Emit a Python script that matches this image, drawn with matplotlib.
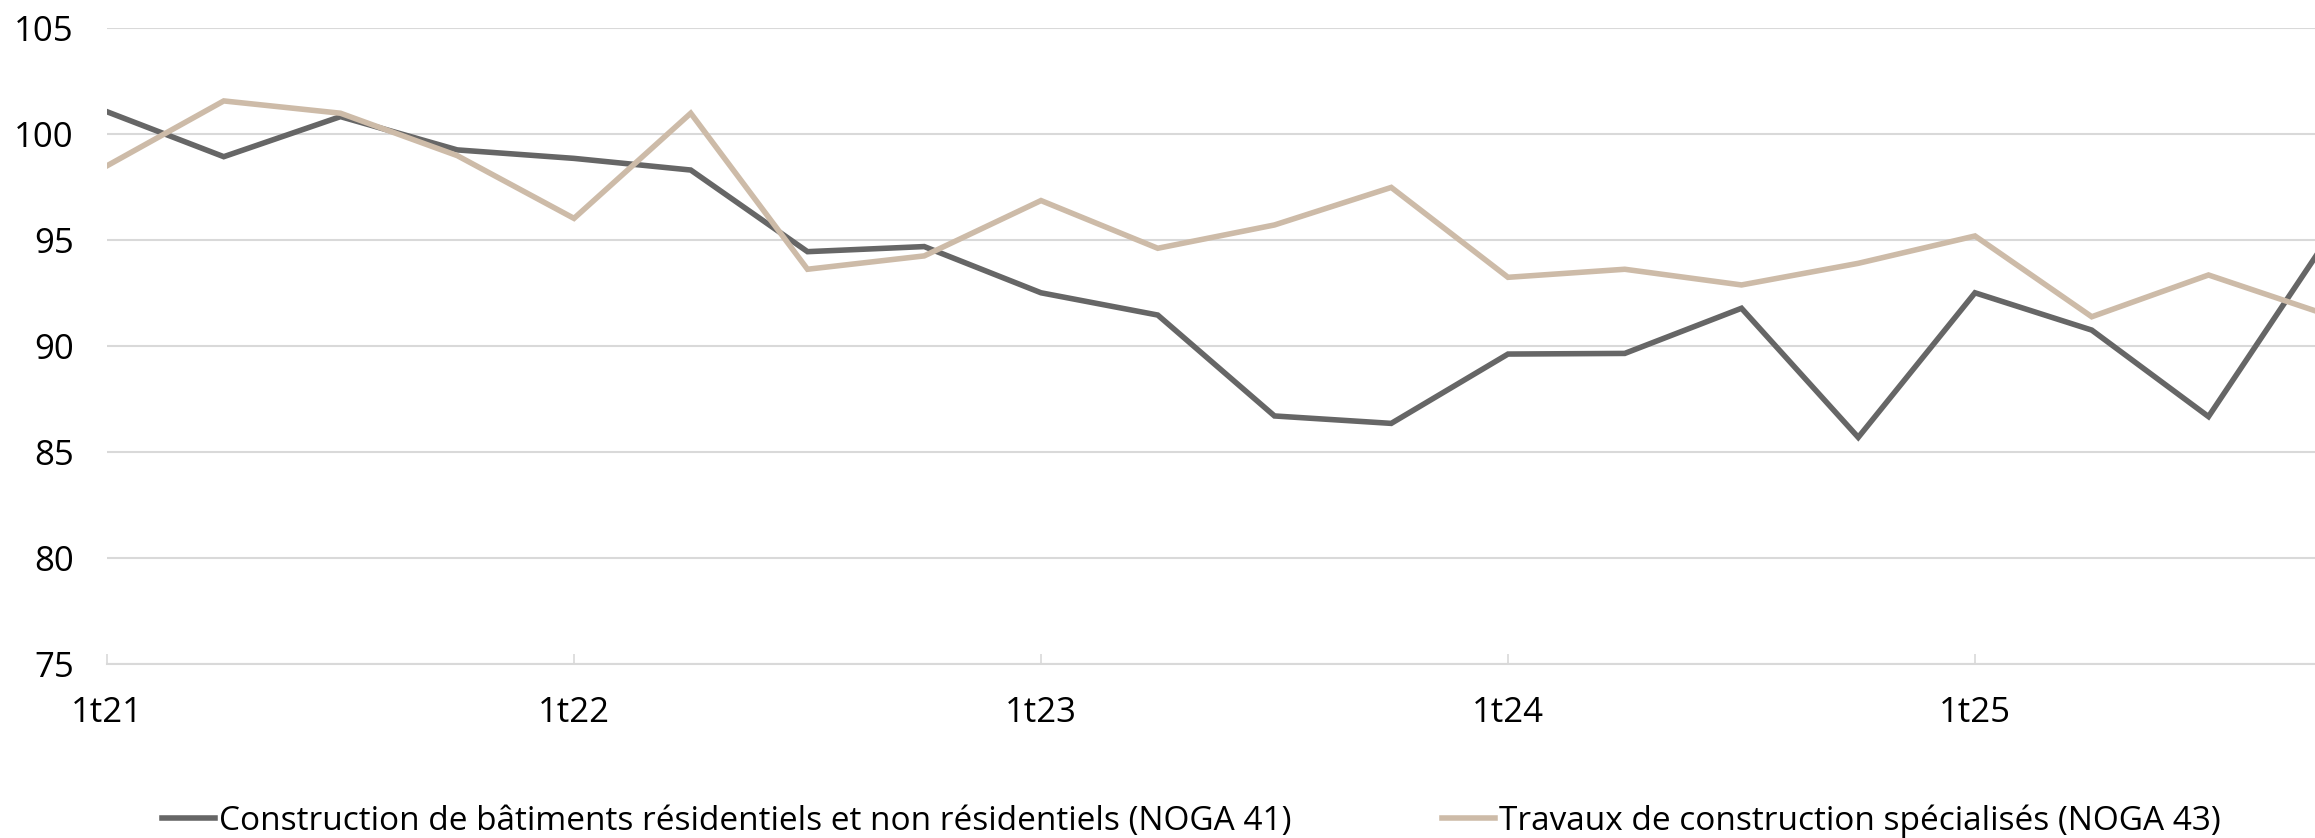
import matplotlib as mpl
import matplotlib.pyplot as plt
import numpy as np

# quarterly index values
quarters = ["1t21", "2t21", "3t21", "4t21", "1t22", "2t22", "3t22", "4t22",
            "1t23", "2t23", "3t23", "4t23", "1t24", "2t24", "3t24", "4t24",
            "1t25", "2t25", "3t25", "4t25"]
noga41 = [101.05, 98.93, 100.82, 99.25, 98.85, 98.30, 94.45, 94.69, 92.51, 91.46,
          86.70, 86.35, 89.62, 89.65, 91.78, 85.69, 92.51, 90.75, 86.67, 94.9]
noga43 = [98.5, 101.56, 100.98, 98.98, 96.02, 100.98, 93.62, 94.25, 96.86, 94.61,
          95.71, 97.48, 93.24, 93.62, 92.88, 93.90, 95.19, 91.38, 93.35, 91.5]
tick_labels = ["1t21", "1t22", "1t23", "1t24", "1t25"]
yticks = [75, 80, 85, 90, 95, 100, 105]
labels = ["Construction de bâtiments résidentiels et non résidentiels (NOGA 41)",
          "Travaux de construction spécialisés (NOGA 43)"]

dark = "#666666"
beige = "#CDBBA8"
grid = "#D9D9D9"

mpl.rc("font", family=["Open Sans", "DejaVu Sans"], size=25)

fig = plt.figure(figsize=(23.15, 8.38), dpi=100)
ax = fig.add_axes([107 / 2315, 1 - 664 / 838, 1 - 107 / 2315, (664 - 28) / 838])

x = np.arange(len(quarters))
ax.plot(x, noga41, color=dark, lw=4, solid_joinstyle="miter", label=labels[0])
ax.plot(x, noga43, color=beige, lw=4, solid_joinstyle="miter", label=labels[1])

ax.set_ylim(75, 105)
ax.set_yticks(yticks)
ax.set_xlim(0, (2315 - 107) / 116.75)
ax.set_xticks([quarters.index(t) for t in tick_labels])
ax.set_xticklabels(tick_labels)

ax.grid(axis="y", color=grid, lw=1.5)
ax.set_axisbelow(True)
for s in ["top", "right", "left"]:
    ax.spines[s].set_visible(False)
ax.spines["bottom"].set_color(grid)
ax.spines["bottom"].set_linewidth(1.5)
ax.tick_params(axis="x", direction="in", length=7, width=1.2, color=grid, pad=23)
ax.tick_params(axis="y", length=0, pad=24)

fig.legend(loc="center left", bbox_to_anchor=(162 / 2315, 1 - 821 / 838), ncol=2,
           frameon=False, borderpad=0, borderaxespad=0, handlelength=1.6,
           handletextpad=0.12, columnspacing=4.5, fontsize=24)

fig.savefig("out.png", dpi=100)
